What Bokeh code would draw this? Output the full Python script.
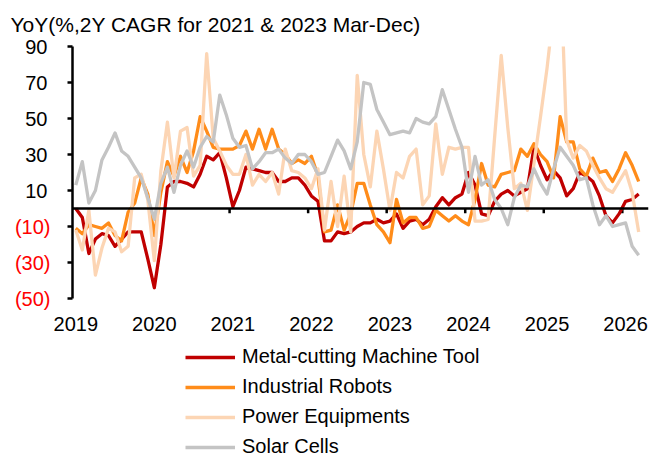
import numpy as np
from bokeh.plotting import figure
from bokeh.layouts import column
from bokeh.models import Span, FixedTicker, Legend, LegendItem, LinearAxis
from bokeh.embed import file_html
from bokeh.resources import INLINE

# Monthly data, Jan 2019 .. Mar 2026
metal_cutting = [0, -5, -25, -17, -14, -15, -21, -17, -13, -13, -13, -28, -44, -20, 12,
                 15, 15, 14, 12, 19, 29, 27, 31, 17, 1, 10, 23, 22, 21, 20,
                 20, 15, 15, 17, 17, 13, 7, 4, -18, -18, -13, -14, -13, -10, -8,
                 -8, -6, -8, -7, -3, -11, -7, -6, -9, -6, 1, 6, 2, 6, 8,
                 20, 13, -3, -4, 4, 8, 10, 7, 9, 11, 34, 24, 16, 21, 17,
                 7, 11, 20, 18, 15, 7, -4, -8, -3, 4, 5, 8]
industrial_robots = [-11, -14, -9, -10, -11, -8, -15, -18, -2, 3, 17, 8, -15, 9, 26,
                     18, 29, 20, 32, 51, 43, 34, 33, 33, 33, 35, 43, 33, 44, 33,
                     44, 33, 30, 25, 27, 25, 29, 18, -13, -12, 2, -12, -3, 14, 14,
                     2, -9, -13, -19, 5, -8, -5, -5, -11, -10, -1, -4, -7, -4, -7,
                     -9, 5, 25, 13, 12, 19, 20, 21, 33, 29, 36, 30, 26, 17, 51,
                     37, 37, 22, 18, 28, 20, 21, 15, 22, 31, 24, 15]
power_equipments = [-12, -23, -1, -37, -22, -11, -13, -24, -21, 17, 19, 5, -29, 21, 48,
                    17, 43, 45, 18, 24, 86, 39, 32, 24, 19, 19, 30, 13, 19, 15,
                    20, 8, 33, 21, 20, 17, 11, 22, -12, 15, -10, 18, -13, 74, 30,
                    12, 43, 22, -1, 20, 17, 29, 33, 2, 7, 47, 19, 34, 33, 34,
                    34, -7, -7, -6, 40, 85, 45, 11, 14, -1, 25, 51, 78, 110, 140,
                    38, 28, 35, 32, 24, 17, 11, 9, 15, 21, 9, -13]
solar_cells = [13, 26, 3, 10, 27, 34, 42, 32, 29, 23, 17, 6, -6, 14, 23,
               9, 24, 32, 23, 34, 40, 37, 63, 52, 39, 34, 35, 22, 26, 31,
               31, 33, 28, 25, 30, 30, 26, 19, 20, 29, 38, 32, 22, 37, 70,
               69, 55, 48, 41, 42, 43, 42, 50, 48, 47, 51, 66, 55, 44, 34,
               9, 29, 13, 16, 5, 0, -9, 6, 13, 12, 22, 14, 8, 22, 34,
               29, 24, 16, 17, 2, -9, -4, -10, -9, -8, -21, -26]

series_names = ["Metal-cutting Machine Tool", "Industrial Robots", "Power Equipments", "Solar Cells"]
series_colors = ["#C00000", "#FF8C1A", "#FCD5B4", "#C4C4C4"]
year_labels = ["2019", "2020", "2021", "2022", "2023", "2024", "2025", "2026"]
y_ticks = [-50, -30, -10, 10, 30, 50, 70, 90]

months = np.arange(len(metal_cutting))
data = [metal_cutting, industrial_robots, power_equipments, solar_cells]
FONT = "Liberation Sans"

p = figure(frame_width=576, frame_height=252, x_range=(-0.5, 87.5), y_range=(-50, 90),
           output_backend="svg", toolbar_location=None,
           min_border_left=72, min_border_right=23, min_border_top=45, min_border_bottom=47)
p.outline_line_color = None
p.xgrid.visible = False
p.ygrid.visible = False

p.title.text = "YoY(%,2Y CAGR for 2021 & 2023 Mar-Dec)"
p.title.align = "left"
p.title.offset = -62
p.title.text_font = FONT
p.title.text_font_size = "21px"
p.title.text_font_style = "normal"
p.title.text_color = "black"
p.title.standoff = 21

# main y axis: line, ticks, positive labels
ya = p.yaxis[0]
ya.ticker = FixedTicker(ticks=y_ticks)
ya.major_label_overrides = {t: (str(t) if t > 0 else " ") for t in y_ticks}
ya.axis_line_color = "black"
ya.axis_line_width = 2.5
ya.major_tick_line_color = "black"
ya.major_tick_line_width = 2.5
ya.major_tick_out = 5
ya.major_tick_in = 0
ya.minor_tick_line_color = None
ya.major_label_text_font = FONT
ya.major_label_text_font_size = "20px"
ya.major_label_text_color = "black"
ya.major_label_standoff = 20

# second y axis: red labels for negative values
neg_ticks = [t for t in y_ticks if t < 0]
yb = LinearAxis(ticker=FixedTicker(ticks=neg_ticks),
                major_label_overrides={t: f"({abs(t)})" for t in neg_ticks},
                axis_line_color=None, major_tick_line_color=None, minor_tick_line_color=None,
                major_tick_out=0, major_tick_in=0, major_label_standoff=-28,
                major_label_text_font=FONT, major_label_text_font_size="20px",
                major_label_text_color="#FF0000")
p.add_layout(yb, "left")

# x axis
xa = p.xaxis[0]
year_ticks = [12 * i for i in range(len(year_labels))]
xa.ticker = FixedTicker(ticks=year_ticks)
xa.major_label_overrides = {t: lab for t, lab in zip(year_ticks, year_labels)}
xa.axis_line_color = None
xa.major_tick_line_color = None
xa.minor_tick_line_color = None
xa.major_label_text_font = FONT
xa.major_label_text_font_size = "20px"
xa.major_label_text_color = "black"
xa.major_label_standoff = 12

# zero line with year separators
p.add_layout(Span(location=0, dimension="width", line_color="black", line_width=2.5))
sep = [t + 11.5 for t in year_ticks[:-1]]
p.segment(x0=sep, x1=sep, y0=[0] * len(sep), y1=[-2.6] * len(sep),
          line_color="black", line_width=2.5)

for vals, col in zip(data, series_colors):
    p.line(months, vals, line_color=col, line_width=3.3, line_join="round")

# legend panel below the chart
lg = figure(width=671, height=115, x_range=(0, 1), y_range=(1000, 1001),
            output_backend="svg", toolbar_location=None,
            min_border_left=0, min_border_right=0, min_border_top=0, min_border_bottom=0)
lg.outline_line_color = None
lg.axis.visible = False
lg.xgrid.visible = False
lg.ygrid.visible = False
lg_renderers = [lg.line(months, vals, line_color=col, line_width=3.3)
                for vals, col in zip(data, series_colors)]
legend = Legend(items=[LegendItem(label=n, renderers=[r]) for n, r in zip(series_names, lg_renderers)],
                location=(113, 2), orientation="vertical",
                glyph_width=50, glyph_height=22, label_height=22, label_standoff=7,
                spacing=7, padding=0, margin=0,
                border_line_color=None, background_fill_alpha=0,
                label_text_font=FONT, label_text_font_size="20px", label_text_color="black")
lg.add_layout(legend)

layout = column(p, lg, spacing=0)
open("out.html", "w").write(file_html(layout, INLINE))
